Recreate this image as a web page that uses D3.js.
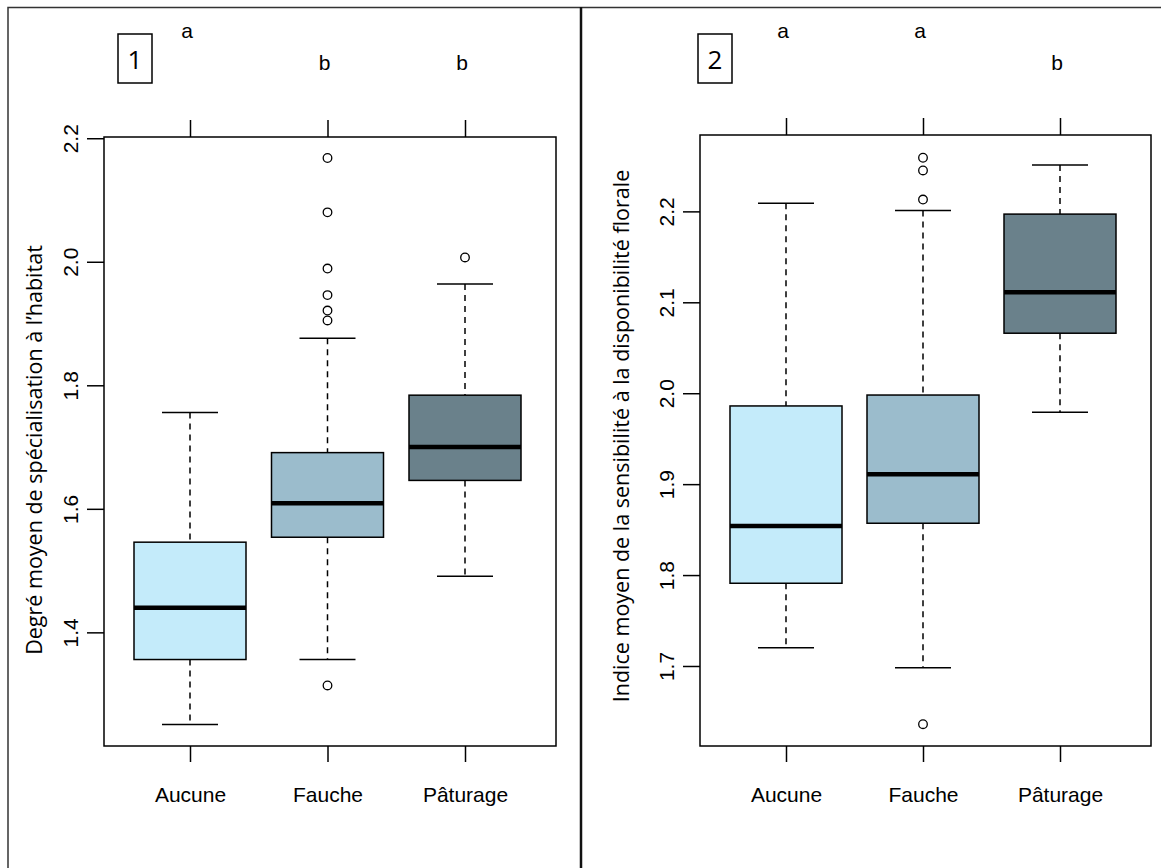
<!DOCTYPE html>
<html>
<head>
<meta charset="utf-8">
<script src="https://cdn.jsdelivr.net/npm/d3@7"></script>
<style>
  body { margin: 0; background: #fff; }
  svg { display: block; }
  text { font-family: "Liberation Sans", Arial, sans-serif; fill: #000; }
</style>
</head>
<body>
<svg id="chart" width="1161" height="868"></svg>
<script>
// Management categories shared by both panels
const categories = ["Aucune", "Fauche", "Pâturage"];
const boxColors = ["#c4ebfa", "#9bbccc", "#6a818b"];

// Panel 1: habitat specialisation degree
const p1Low    = [1.251, 1.356, 1.491];
const p1Q1     = [1.356, 1.554, 1.646];
const p1Median = [1.440, 1.609, 1.700];
const p1Q3     = [1.546, 1.691, 1.784];
const p1High   = [1.756, 1.876, 1.964];
const p1Outliers = [[], [2.168, 2.080, 1.989, 1.946, 1.921, 1.905, 1.314], [2.007]];
const p1Letters = ["a", "b", "b"];
const p1Ticks = [1.4, 1.6, 1.8, 2.0, 2.2];
const p1Domain = [1.216, 2.202];

// Panel 2: sensitivity to floral availability
const p2Low    = [1.720, 1.698, 1.979];
const p2Q1     = [1.791, 1.857, 2.066];
const p2Median = [1.854, 1.911, 2.111];
const p2Q3     = [1.986, 1.998, 2.197];
const p2High   = [2.209, 2.201, 2.251];
const p2Outliers = [[], [2.259, 2.245, 2.213, 1.636], []];
const p2Letters = ["a", "a", "b"];
const p2Ticks = [1.7, 1.8, 1.9, 2.0, 2.1, 2.2];
const p2Domain = [1.612, 2.284];

const svg = d3.select("#chart");

// Outer frame and divider between the two panels
svg.append("rect").attr("x", 8).attr("y", 7.5).attr("width", 1160).attr("height", 870)
  .attr("fill", "none").attr("stroke", "#333").attr("stroke-width", 1.5);
svg.append("line").attr("x1", 581).attr("x2", 581).attr("y1", 7).attr("y2", 868)
  .attr("stroke", "#111").attr("stroke-width", 2.5);

function drawPanel(cfg) {
  const g = svg.append("g");
  const x = d3.scalePoint().domain(categories).range([cfg.left + 86, cfg.right - 91]);
  const y = d3.scaleLinear().domain(cfg.domain).range([cfg.bottom, cfg.top]);
  const boxHalf = 56, capHalf = 28;

  // plot frame
  g.append("rect").attr("x", cfg.left).attr("y", cfg.top)
    .attr("width", cfg.right - cfg.left).attr("height", cfg.bottom - cfg.top)
    .attr("fill", "none").attr("stroke", "#000").attr("stroke-width", 1.5);

  // y axis
  const yAxis = d3.axisLeft(y).tickValues(cfg.ticks).tickFormat(d3.format(".1f")).tickSize(17).tickPadding(0);
  const ya = g.append("g").attr("transform", `translate(${cfg.left},0)`).call(yAxis);
  ya.select(".domain").remove();
  ya.selectAll(".tick line").attr("stroke", "#000").attr("stroke-width", 1.5);
  ya.selectAll(".tick text")
    .attr("x", 0).attr("dy", null)
    .attr("transform", `translate(${-cfg.tickLabelOffset},0) rotate(-90)`)
    .attr("text-anchor", "middle").attr("dominant-baseline", "central")
    .style("font-family", "'Liberation Sans', Arial, sans-serif")
    .style("font-size", "21px").attr("fill", "#000");

  // bottom axis with category names
  const xAxis = d3.axisBottom(x).tickSize(16).tickPadding(25);
  const xa = g.append("g").attr("transform", `translate(0,${cfg.bottom})`).call(xAxis);
  xa.select(".domain").remove();
  xa.selectAll(".tick line").attr("stroke", "#000").attr("stroke-width", 1.5);
  xa.selectAll(".tick text").style("font-family", "'Liberation Sans', Arial, sans-serif")
    .style("font-size", "21px").attr("fill", "#000");

  // top axis ticks (no labels)
  const xTop = d3.axisTop(x).tickSize(17).tickFormat("");
  const xt = g.append("g").attr("transform", `translate(0,${cfg.top})`).call(xTop);
  xt.select(".domain").remove();
  xt.selectAll(".tick line").attr("stroke", "#000").attr("stroke-width", 1.5);

  // y axis title
  g.append("text")
    .attr("transform", `translate(${cfg.titleX},${cfg.titleY}) rotate(-90)`)
    .attr("text-anchor", "middle").attr("dominant-baseline", "central")
    .style("font-family", "'Open Sans', 'Noto Sans', sans-serif")
    .style("font-size", "21.5px").text(cfg.title);

  categories.forEach((c, i) => {
    const cx = x(c);
    // whiskers
    [[cfg.high[i], cfg.q3[i]], [cfg.q1[i], cfg.low[i]]].forEach(([a, b]) => {
      g.append("line").attr("x1", cx).attr("x2", cx).attr("y1", y(a)).attr("y2", y(b))
        .attr("stroke", "#000").attr("stroke-width", 1.5).attr("stroke-dasharray", "6,5");
    });
    [cfg.high[i], cfg.low[i]].forEach(v => {
      g.append("line").attr("x1", cx - capHalf).attr("x2", cx + capHalf)
        .attr("y1", y(v)).attr("y2", y(v)).attr("stroke", "#000").attr("stroke-width", 1.5);
    });
    // box
    g.append("rect").attr("x", cx - boxHalf).attr("y", y(cfg.q3[i]))
      .attr("width", boxHalf * 2).attr("height", y(cfg.q1[i]) - y(cfg.q3[i]))
      .attr("fill", boxColors[i]).attr("stroke", "#000").attr("stroke-width", 1.5);
    // median
    g.append("line").attr("x1", cx - boxHalf).attr("x2", cx + boxHalf)
      .attr("y1", y(cfg.median[i])).attr("y2", y(cfg.median[i]))
      .attr("stroke", "#000").attr("stroke-width", 4.5);
    // outliers
    cfg.outliers[i].forEach(v => {
      g.append("circle").attr("cx", cx).attr("cy", y(v)).attr("r", 4.3)
        .attr("fill", "none").attr("stroke", "#000").attr("stroke-width", 1.3);
    });
    // significance letters
    g.append("text").attr("x", cx - 3).attr("y", cfg.letters[i] === "a" ? 38 : 70)
      .attr("text-anchor", "middle").style("font-family", "'Liberation Sans', Arial, sans-serif")
      .style("font-size", "21px").text(cfg.letters[i]);
  });

  // panel number in a box
  g.append("rect").attr("x", cfg.numX).attr("y", 34).attr("width", 34).attr("height", 49)
    .attr("fill", "#fff").attr("stroke", "#000").attr("stroke-width", 1.5);
  g.append("text").attr("x", cfg.numX + 17).attr("y", 59)
    .attr("text-anchor", "middle").attr("dominant-baseline", "central")
    .style("font-family", "'Open Sans', 'Noto Sans', sans-serif").style("font-size", "26px")
    .text(cfg.number);
}

drawPanel({
  left: 104, right: 556, top: 137, bottom: 746,
  domain: p1Domain, ticks: p1Ticks,
  low: p1Low, q1: p1Q1, median: p1Median, q3: p1Q3, high: p1High,
  outliers: p1Outliers, letters: p1Letters,
  title: "Degré moyen de spécialisation à l’habitat", titleX: 33, titleY: 450,
  tickLabelOffset: 34, numX: 118, number: "1"
});

drawPanel({
  left: 700, right: 1151, top: 135, bottom: 746,
  domain: p2Domain, ticks: p2Ticks,
  low: p2Low, q1: p2Q1, median: p2Median, q3: p2Q3, high: p2High,
  outliers: p2Outliers, letters: p2Letters,
  title: "Indice moyen de la sensibilité à la disponibilité florale", titleX: 620, titleY: 436,
  tickLabelOffset: 34, numX: 698, number: "2"
});
</script>
</body>
</html>
